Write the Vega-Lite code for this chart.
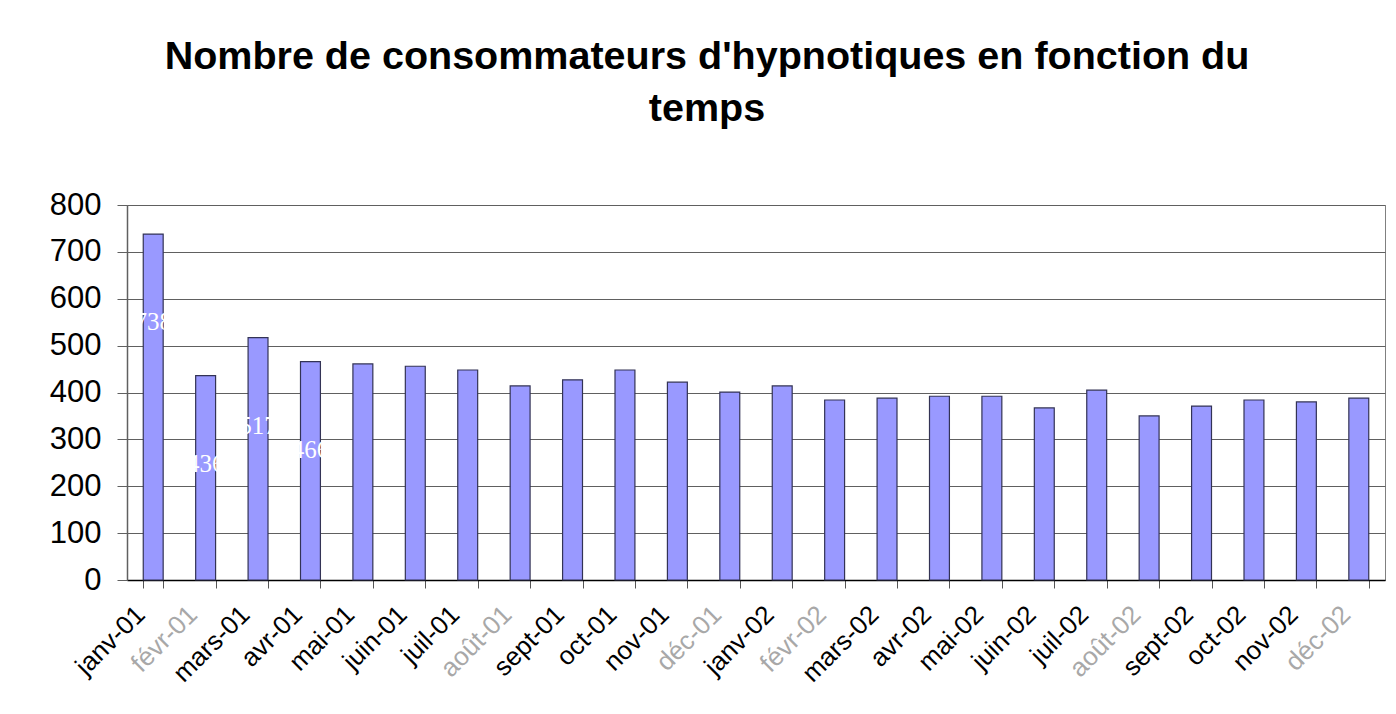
{
  "$schema": "https://vega.github.io/schema/vega-lite/v6.json",
  "width": 1258,
  "height": 375,
  "autosize": {"type": "none"},
  "padding": {"left": 127, "top": 205, "right": 11, "bottom": 134},
  "background": "white",
  "title": {
    "text": ["Nombre de consommateurs d'hypnotiques en fonction du", "temps"],
    "font": "Liberation Sans",
    "fontSize": 39.5,
    "fontWeight": "bold",
    "color": "black",
    "anchor": "middle",
    "offset": 60,
    "dx": -49,
    "lineHeight": 52
  },
  "config": {
    "view": {"stroke": "#808080", "strokeWidth": 1},
    "axis": {"labelFont": "Liberation Sans", "titleFont": "Liberation Sans"}
  },
  "data": {
    "values": [
      {"mois": "janv-01", "valeur": 738},
      {"mois": "févr-01", "valeur": 436},
      {"mois": "mars-01", "valeur": 517},
      {"mois": "avr-01", "valeur": 466},
      {"mois": "mai-01", "valeur": 461},
      {"mois": "juin-01", "valeur": 456},
      {"mois": "juil-01", "valeur": 448},
      {"mois": "août-01", "valeur": 414},
      {"mois": "sept-01", "valeur": 427},
      {"mois": "oct-01", "valeur": 448},
      {"mois": "nov-01", "valeur": 422},
      {"mois": "déc-01", "valeur": 401},
      {"mois": "janv-02", "valeur": 414},
      {"mois": "févr-02", "valeur": 384},
      {"mois": "mars-02", "valeur": 388},
      {"mois": "avr-02", "valeur": 392},
      {"mois": "mai-02", "valeur": 392},
      {"mois": "juin-02", "valeur": 367},
      {"mois": "juil-02", "valeur": 405},
      {"mois": "août-02", "valeur": 350},
      {"mois": "sept-02", "valeur": 371},
      {"mois": "oct-02", "valeur": 384},
      {"mois": "nov-02", "valeur": 380},
      {"mois": "déc-02", "valeur": 388}
    ]
  },
  "encoding": {
    "x": {
      "field": "mois",
      "type": "ordinal",
      "sort": null,
      "scale": {"paddingInner": 0.62, "paddingOuter": 0.31},
      "axis": {
        "title": null,
        "grid": false,
        "labelAngle": -45,
        "labelAlign": "right",
        "labelBaseline": "middle",
        "labelFontSize": 26,
        "labelPadding": 22,
        "labelOffset": -13,
        "labelColor": {"expr": "indexof(['févr-01','août-01','déc-01','févr-02','août-02','déc-02'], datum.value) >= 0 ? '#a8a8a8' : '#000000'"},
        "tickBand": "extent",
        "tickSize": 8,
        "tickColor": "#555555",
        "domainColor": "#000000",
        "domainWidth": 1.5
      }
    },
    "y": {
      "field": "valeur",
      "type": "quantitative",
      "scale": {"domain": [0, 800], "nice": false},
      "axis": {
        "title": null,
        "values": [0, 100, 200, 300, 400, 500, 600, 700, 800],
        "labelFontSize": 31,
        "labelColor": "#000000",
        "labelPadding": 16,
        "tickSize": 10,
        "tickColor": "#606060",
        "domainColor": "#606060",
        "domainWidth": 1.5,
        "gridColor": "#606060",
        "gridWidth": 1.2
      }
    }
  },
  "layer": [
    {
      "mark": {"type": "bar", "fill": "#9999FF", "stroke": "#333355", "strokeWidth": 1.2}
    },
    {
      "transform": [{"filter": {"field": "mois", "oneOf": ["janv-01", "févr-01", "mars-01", "avr-01"]}}],
      "mark": {"type": "text", "color": "white", "font": "Liberation Serif", "fontSize": 25, "baseline": "middle", "align": "center", "dy": 88},
      "encoding": {"text": {"field": "valeur", "type": "quantitative"}}
    }
  ]
}
